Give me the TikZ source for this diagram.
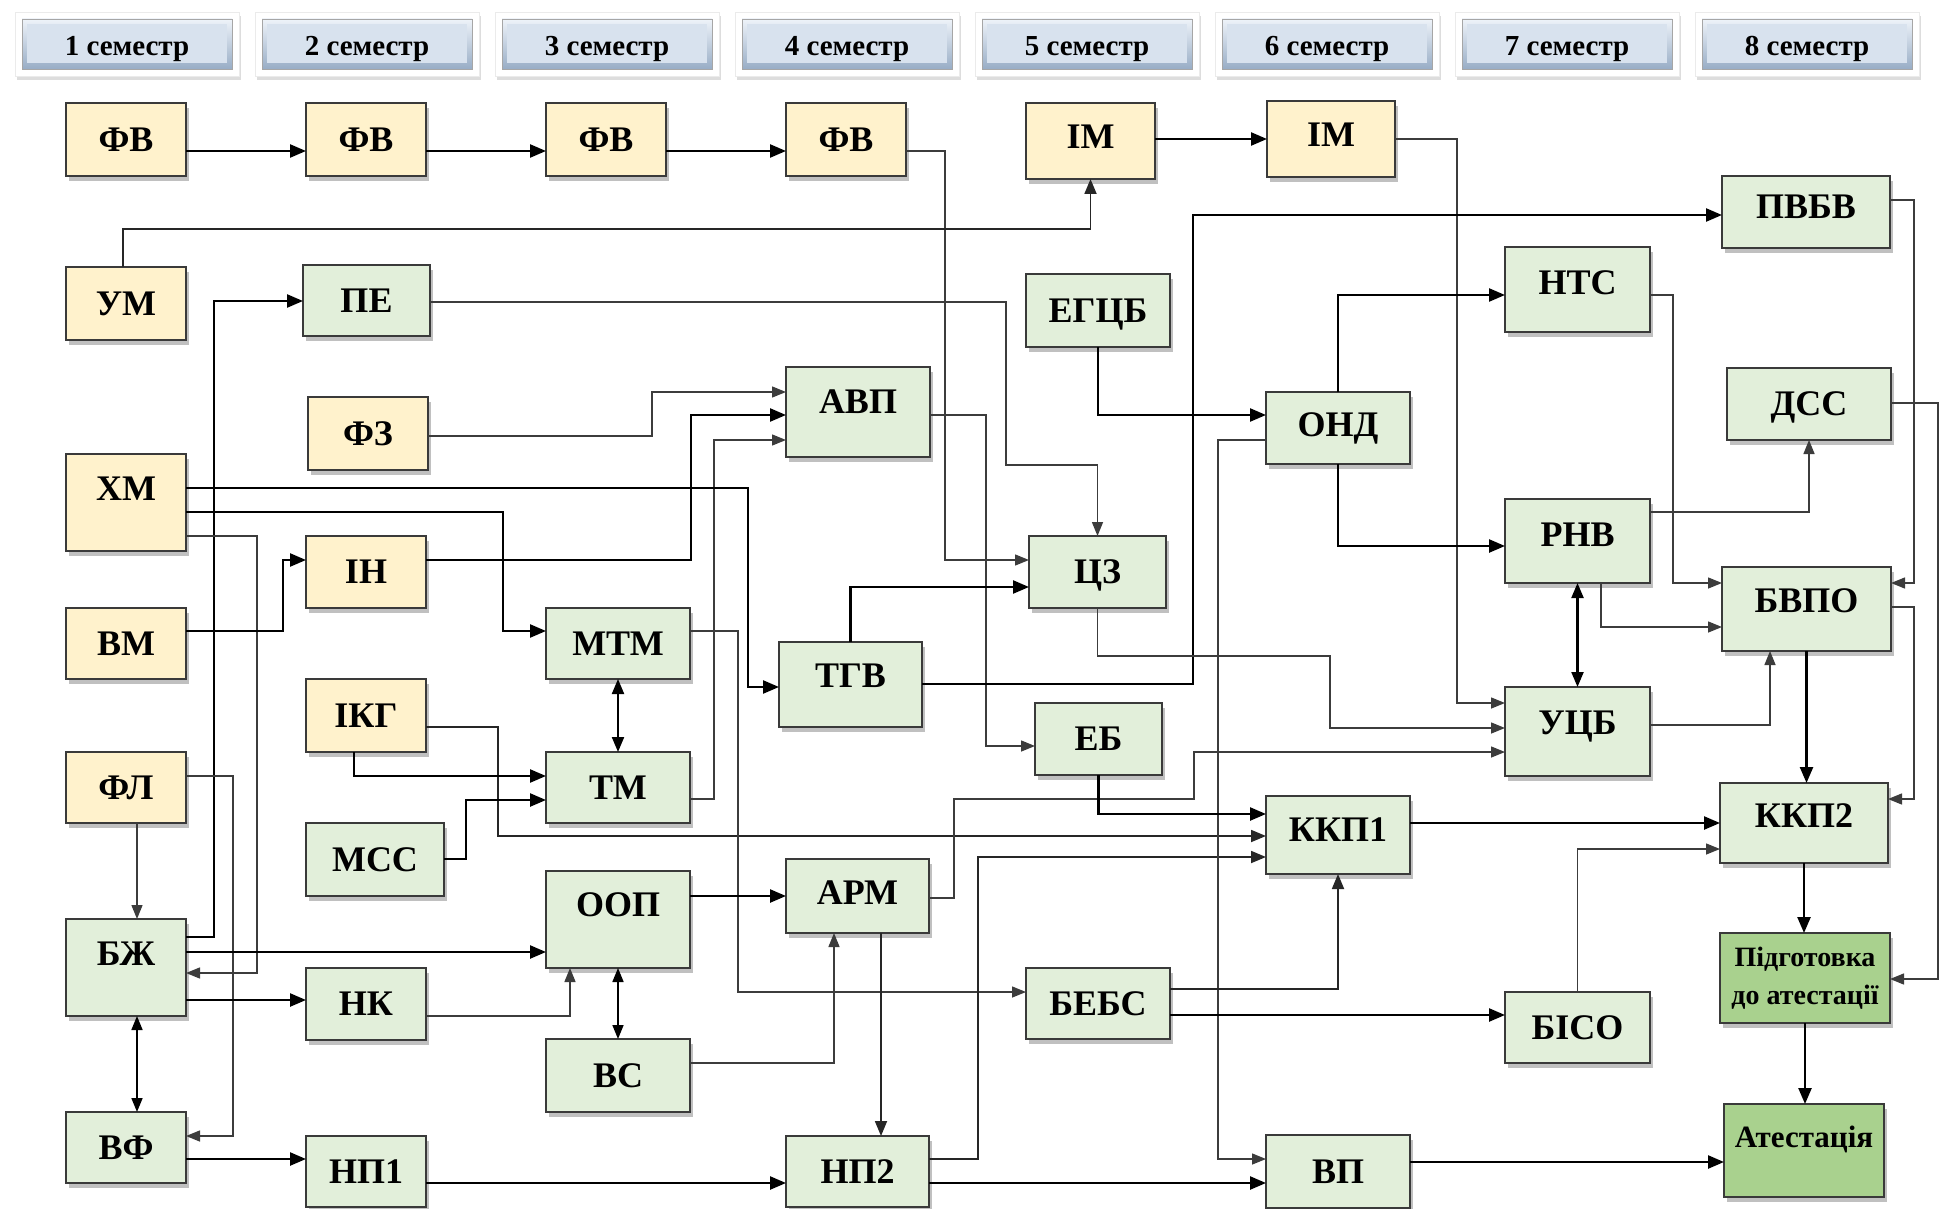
\documentclass[tikz,border=0pt]{standalone}
\usepackage{fontspec}
\setmainfont{Liberation Serif}
\usetikzlibrary{arrows.meta,shadows}
\definecolor{yfill}{HTML}{FFF2CC}
\definecolor{gfill}{HTML}{E2EFDA}
\definecolor{dfill}{HTML}{A9D18E}
\definecolor{bordc}{HTML}{3A3A3A}
\definecolor{thinc}{HTML}{3C3C3C}
\definecolor{hdtop}{HTML}{EEF3F9}
\definecolor{hdbot}{HTML}{98ADC6}
\definecolor{hdmid}{HTML}{D8E2EE}
\begin{document}
\begin{tikzpicture}[x=1pt,y=-1pt,
  base/.style={draw=bordc,line width=1.4pt,inner sep=0pt,outer sep=0pt,
    drop shadow={shadow xshift=3pt,shadow yshift=-5pt,opacity=0.35,fill=black!70}},
  sz/.style 2 args={minimum width=#1pt,minimum height=#2pt},
  bfont/.style={font=\fontsize{36}{40}\selectfont\bfseries,text height=23.6pt,text depth=0pt},
  yb/.style={base,fill=yfill,bfont},
  gb/.style={base,fill=gfill,bfont},
  db/.style={base,fill=dfill},
  tup/.style={text depth=#1},
  thk/.style={line width=2.4pt,draw=black,-{Triangle[length=16pt,width=13pt]}},
  med/.style={line width=1.8pt,draw=black!85,-{Triangle[length=15pt,width=12pt]}},
  thn/.style={line width=1.4pt,draw=thinc,-{Triangle[length=14pt,width=11pt]}},
  thkd/.style={line width=2.1pt,draw=black,{Triangle[length=15pt,width=12pt]}-{Triangle[length=15pt,width=12pt]}},
  medd/.style={line width=1.7pt,draw=black,{Triangle[length=14pt,width=11pt]}-{Triangle[length=14pt,width=11pt]}},
  hdglow/.style={fill=white,draw=black!8,line width=0.6pt,minimum width=224pt,minimum height=64pt,inner sep=0pt,
    drop shadow={shadow xshift=2pt,shadow yshift=-4pt,opacity=0.22,fill=black!60}},
  hdbox/.style={top color=hdtop,bottom color=hdbot,draw=black!35,line width=0.8pt,minimum width=210pt,minimum height=50pt,inner sep=0pt},
  hdtext/.style={font=\fontsize{29}{32}\selectfont\bfseries,text height=19pt,text depth=0pt,inner sep=0pt}
]
\useasboundingbox (0,0) rectangle (1943,1209);
\fill[white] (0,0) rectangle (1943,1209);

% semester header
\foreach \i in {1,...,8}{
  \pgfmathsetmacro\cx{127+240*(\i-1)}
  \node[hdglow] (hg\i) at (\cx,44) {};
  \node[hdbox] (hd\i) at (\cx,44) {};
  \fill[hdmid] ([xshift=5pt,yshift=-5pt]hd\i.north west) rectangle ([xshift=-5pt,yshift=6pt]hd\i.south east);
  \node[hdtext] (ht\i) at ([yshift=-2pt]hd\i.center) {\i\ семестр};
}

% yellow boxes
\node[yb,sz={120}{73}] (fv1) at (126,139.5) {ФВ};
\node[yb,sz={120}{73}] (fv2) at (366,139.5) {ФВ};
\node[yb,sz={120}{73}] (fv3) at (606,139.5) {ФВ};
\node[yb,sz={120}{73}] (fv4) at (846,139.5) {ФВ};
\node[yb,sz={129}{76},tup=8pt] (im5) at (1090.5,141) {ІМ};
\node[yb,sz={128}{76},tup=8pt] (im6) at (1331,139) {ІМ};
\node[yb,sz={120}{73}] (um) at (126,303.5) {УМ};
\node[yb,sz={120}{73}] (fz) at (368,433.5) {ФЗ};
\node[yb,sz={120}{97},tup=28pt] (xm) at (126,502.5) {ХМ};
\node[yb,sz={120}{72}] (inn) at (366,572) {ІН};
\node[yb,sz={120}{71}] (vm) at (126,643.5) {ВМ};
\node[yb,sz={120}{73}] (ikg) at (366,715.5) {ІКГ};
\node[yb,sz={120}{71}] (fl) at (126,787.5) {ФЛ};

% green boxes
\node[gb,sz={127}{71}] (pe) at (366.5,300.5) {ПЕ};
\node[gb,sz={144}{90},tup=20pt] (avp) at (858,412) {АВП};
\node[gb,sz={144}{73}] (egcb) at (1098,310.5) {ЕГЦБ};
\node[gb,sz={144}{72},tup=6pt] (ond) at (1338,428) {ОНД};
\node[gb,sz={137}{72}] (cz) at (1097.5,572) {ЦЗ};
\node[gb,sz={144}{71}] (mtm) at (618,643.5) {МТМ};
\node[gb,sz={143}{85},tup=18pt] (tgv) at (850.5,684.5) {ТГВ};
\node[gb,sz={127}{72}] (eb) at (1098.5,739) {ЕБ};
\node[gb,sz={144}{71}] (tm) at (618,787.5) {ТМ};
\node[gb,sz={138}{73}] (mss) at (375,859.5) {МСС};
\node[gb,sz={144}{97},tup=30pt] (oop) at (618,919.5) {ООП};
\node[gb,sz={143}{74},tup=6pt] (arm) at (857.5,896) {АРМ};
\node[gb,sz={120}{97},tup=28pt] (bzh) at (126,967.5) {БЖ};
\node[gb,sz={120}{72}] (nk) at (366,1004) {НК};
\node[gb,sz={144}{73}] (vs) at (618,1075.5) {ВС};
\node[gb,sz={120}{71}] (vf) at (126,1147.5) {ВФ};
\node[gb,sz={120}{71}] (np1) at (366,1171.5) {НП1};
\node[gb,sz={143}{71}] (np2) at (857.5,1171.5) {НП2};
\node[gb,sz={144}{71}] (bebs) at (1098,1003.5) {БЕБС};
\node[gb,sz={144}{78},tup=10pt] (kkp1) at (1338,835) {ККП1};
\node[gb,sz={144}{73}] (vp) at (1338,1171.5) {ВП};
\node[gb,sz={145}{71}] (bico) at (1577.5,1027.5) {БІСО};
\node[gb,sz={145}{89},tup=18pt] (ucb) at (1577.5,731.5) {УЦБ};
\node[gb,sz={145}{84},tup=12pt] (rnv) at (1577.5,541) {РНВ};
\node[gb,sz={145}{85},tup=14pt] (nts) at (1577.5,289.5) {НТС};
\node[gb,sz={168}{72},tup=10pt] (pvbv) at (1806,212) {ПВБВ};
\node[gb,sz={164}{72}] (dss) at (1809,404) {ДСС};
\node[gb,sz={169}{84},tup=16pt] (bvpo) at (1806.5,609) {БВПО};
\node[gb,sz={168}{80},tup=14pt] (kkp2) at (1804,823) {ККП2};
\node[db,sz={170}{90},align=center,font=\fontsize{28}{38}\selectfont\bfseries] (pidg) at (1805,978) {Підготовка\\до атестації};
\node[db,sz={160}{93},font=\fontsize{31}{36}\selectfont\bfseries,text height=20.3pt,text depth=26pt] (atest) at (1804,1150.5) {Атестація};

% connectors
\draw[thk] (fv1.east|-0,151) -- (fv2.west|-0,151);
\draw[thk] (fv2.east|-0,151) -- (fv3.west|-0,151);
\draw[thk] (fv3.east|-0,151) -- (fv4.west|-0,151);
\draw[thn] (fv4.east|-0,151) -| (945,560) -- (cz.west|-0,560);
\draw[thk] (im5.east|-0,139) -- (im6.west|-0,139);
\draw[med] ([xshift=-3pt]um.north) |- (im5.south|-0,229) -- (im5.south);
\draw[thn] (im6.east|-0,139) -| (1457,703) -- (ucb.west|-0,703);
\draw[thk] (bzh.east|-0,937) -| (214,301) -- (pe.west|-0,301);
\draw[thn] (pe.east|-0,302) -| (1006,465) -| (cz.north);
\draw[thn] (fz.east|-0,436) -| (652,392) -- (avp.west|-0,392);
\draw[thk] (inn.east|-0,560) -| (691,415) -- (avp.west|-0,415);
\draw[thn] (tm.east|-0,799) -| (714,440) -- (avp.west|-0,440);
\draw[thn] (avp.east|-0,415) -| (986,746) -- (eb.west|-0,746);
\draw[thk] (xm.east|-0,488) -| (748,687) -- (tgv.west|-0,687);
\draw[thk] (xm.east|-0,512) -| (503,631) -- (mtm.west|-0,631);
\draw[thn] (xm.east|-0,536) -| (257,973) -- (bzh.east|-0,973);
\draw[thk] (vm.east|-0,631) -| (283,560) -- (inn.west|-0,560);
\draw[med] (ikg.east|-0,727) -| (498,836) -- (kkp1.west|-0,836);
\draw[thk] ([xshift=-12pt]ikg.south) |- (tm.west|-0,776);
\draw[thk] (mss.east|-0,859) -| (466,800) -- (tm.west|-0,800);
\draw[thkd] (mtm.south) -- (tm.north);
\draw[thn] (mtm.east|-0,631) -| (738,992) -- (bebs.west|-0,992);
\draw[thn] (fl.east|-0,776) -| (233,1136) -- (vf.east|-0,1136);
\draw[thn] ([xshift=11pt]fl.south) -- ([xshift=11pt]bzh.north);
\draw[thk] (bzh.east|-0,952) -- (oop.west|-0,952);
\draw[thk] (bzh.east|-0,1000) -- (nk.west|-0,1000);
\draw[medd] ([xshift=11pt]bzh.south) -- ([xshift=11pt]vf.north);
\draw[thn] (nk.east|-0,1016) -| ([xshift=-48pt]oop.south);
\draw[medd] (oop.south) -- (vs.north);
\draw[thk] (oop.east|-0,896) -- (arm.west|-0,896);
\draw[thn] (vs.east|-0,1063) -| ([xshift=-23.5pt]arm.south);
\draw[med] ([xshift=23.5pt]arm.south) -- ([xshift=23.5pt]np2.north);
\draw[thn] (arm.east|-0,898) -| (954,799) -| (1194,752) -- (ucb.west|-0,752);
\draw[thk] (vf.east|-0,1159) -- (np1.west|-0,1159);
\draw[thk] (np1.east|-0,1183) -- (np2.west|-0,1183);
\draw[med] (np2.east|-0,1159) -| (978,857) -- (kkp1.west|-0,857);
\draw[thk] (np2.east|-0,1183) -- (vp.west|-0,1183);
\draw[thk] (vp.east|-0,1162) -- (atest.west|-0,1162);
\draw[thk] (egcb.south) |- (ond.west|-0,415);
\draw[thn] (ond.west|-0,440) -| (1218,1159) -- (vp.west|-0,1159);
\draw[thk] (tgv.east|-0,684) -| (1193,215) -- (pvbv.west|-0,215);
\draw[thk] (tgv.north) |- (cz.west|-0,587);
\draw[thn] (cz.south) |- (1330,656) |- (ucb.west|-0,728);
\draw[thk] (eb.south) |- (kkp1.west|-0,814);
\draw[med] (bebs.east|-0,989) -| (kkp1.south);
\draw[thk] (bebs.east|-0,1015) -- (bico.west|-0,1015);
\draw[thn] (bico.north) |- (kkp2.west|-0,849);
\draw[thk] (kkp1.east|-0,823) -- (kkp2.west|-0,823);
\draw[thk] (kkp2.south) -- (kkp2.south|-pidg.north);
\draw[thk] (pidg.south) -- (pidg.south|-atest.north);
\draw[thk] (ond.north) |- (nts.west|-0,295);
\draw[thk] (ond.south) |- (rnv.west|-0,546);
\draw[thn] (nts.east|-0,295) -| (1673,583) -- (bvpo.west|-0,583);
\draw[thn] (rnv.east|-0,512) -| (dss.south);
\draw[thn] ([xshift=23.5pt]rnv.south) |- (bvpo.west|-0,627);
\draw[thkd] (rnv.south) -- (ucb.north);
\draw[thn] (ucb.east|-0,725) -| ([xshift=-36.5pt]bvpo.south);
\draw[thk] (bvpo.south) -- (bvpo.south|-kkp2.north);
\draw[thn] (pvbv.east|-0,200) -| (1914,583) -- (bvpo.east|-0,583);
\draw[thn] (bvpo.east|-0,607) -| (1914,799) -- (kkp2.east|-0,799);
\draw[thn] (dss.east|-0,403) -| (1938,979) -- (pidg.east|-0,979);
\end{tikzpicture}
\end{document}
